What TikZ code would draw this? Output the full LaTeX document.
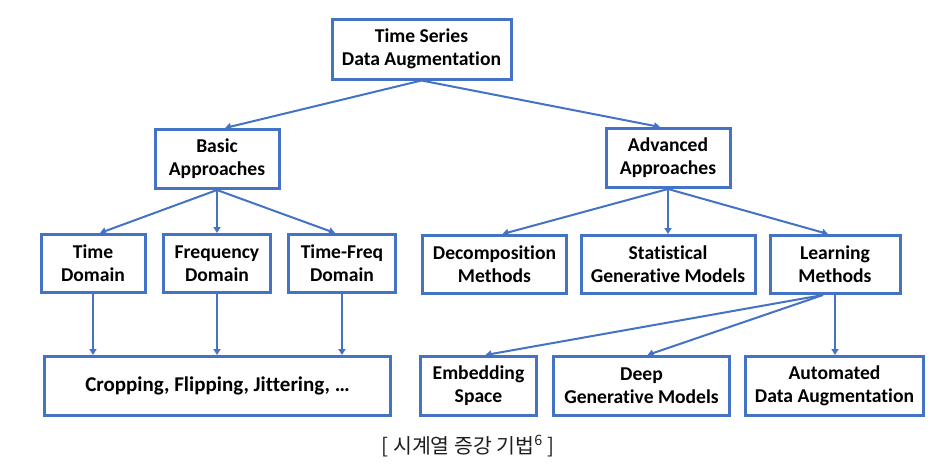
\documentclass[tikz,border=0pt]{standalone}
\usepackage{fontspec}
\setmainfont{Carlito}[Ligatures=NoCommon]
\newfontfamily\krfont{Noto Sans CJK KR}
\usetikzlibrary{arrows.meta}
\definecolor{boxblue}{RGB}{68,114,196}
\definecolor{captiongray}{RGB}{30,30,30}
\tikzset{
  box/.style={draw=boxblue, line width=3pt, fill=white, align=center,
    font=\fontsize{19.6}{23}\selectfont\bfseries, text=black, inner sep=0pt},
  conn/.style={draw=boxblue, line width=2pt, -{Triangle[width=7pt,length=6pt]}}
}
\begin{document}
\begin{tikzpicture}[x=1pt,y=-1pt]
\useasboundingbox (0,0) rectangle (946,472);
\node[box, minimum width=179pt, minimum height=60pt] (top) at (421.5,49) {Time Series\\Data Augmentation};
\node[box, minimum width=124pt, minimum height=59pt] (basic) at (217,159) {Basic\\Approaches};
\node[box, minimum width=124pt, minimum height=59pt] (adv) at (668,158) {Advanced\\Approaches};
\node[box, minimum width=104pt, minimum height=58pt] (td) at (93,263.5) {Time\\Domain};
\node[box, minimum width=107pt, minimum height=58pt] (fd) at (217,263.5) {Frequency\\Domain};
\node[box, minimum width=107pt, minimum height=58pt] (tf) at (342,263.5) {Time-Freq\\Domain};
\node[box, minimum width=144pt, minimum height=58pt] (dec) at (494.5,264.5) {Decomposition\\Methods};
\node[box, minimum width=174pt, minimum height=58pt] (stat) at (668,264.5) {Statistical\\Generative Models};
\node[box, minimum width=130pt, minimum height=58pt] (learn) at (835,264.5) {Learning\\Methods};
\node[box, minimum width=346pt, minimum height=59pt, font=\fontsize{21}{25}\selectfont\bfseries] (crop) at (217.5,386) {Cropping, Flipping, Jittering, \dots};
\node[box, minimum width=116pt, minimum height=59pt] (emb) at (478.5,386) {Embedding\\Space};
\node[box, minimum width=176pt, minimum height=59pt] (deep) at (641.5,386) {Deep\\Generative Models};
\node[box, minimum width=178pt, minimum height=59pt] (auto) at (834.5,386) {Automated\\Data Augmentation};
\node[font=\krfont\fontsize{20.5}{24}\selectfont, text=captiongray] (cap) at (468,446) {[ 시계열 증강 기법\textsuperscript{6} ]};
\draw[conn] (top.south) -- ([xshift=8pt]basic.north);
\draw[conn] (top.south) -- ([xshift=-8pt]adv.north);
\draw[conn] (basic.south) -- ([xshift=7pt]td.north);
\draw[conn] (basic.south) -- (fd.north);
\draw[conn] (basic.south) -- ([xshift=-7pt]tf.north);
\draw[conn] (adv.south) -- ([xshift=8pt]dec.north);
\draw[conn] (adv.south) -- (stat.north);
\draw[conn] (adv.south) -- ([xshift=-7pt]learn.north);
\draw[conn] (td.south) -- (td.south |- crop.north);
\draw[conn] (fd.south) -- (fd.south |- crop.north);
\draw[conn] (tf.south) -- (tf.south |- crop.north);
\draw[conn] ([xshift=-12pt]learn.south) -- ([xshift=7pt]emb.north);
\draw[conn] ([xshift=-12pt]learn.south) -- ([xshift=6pt]deep.north);
\draw[conn] (learn.south) -- (learn.south |- auto.north);
\end{tikzpicture}
\end{document}
